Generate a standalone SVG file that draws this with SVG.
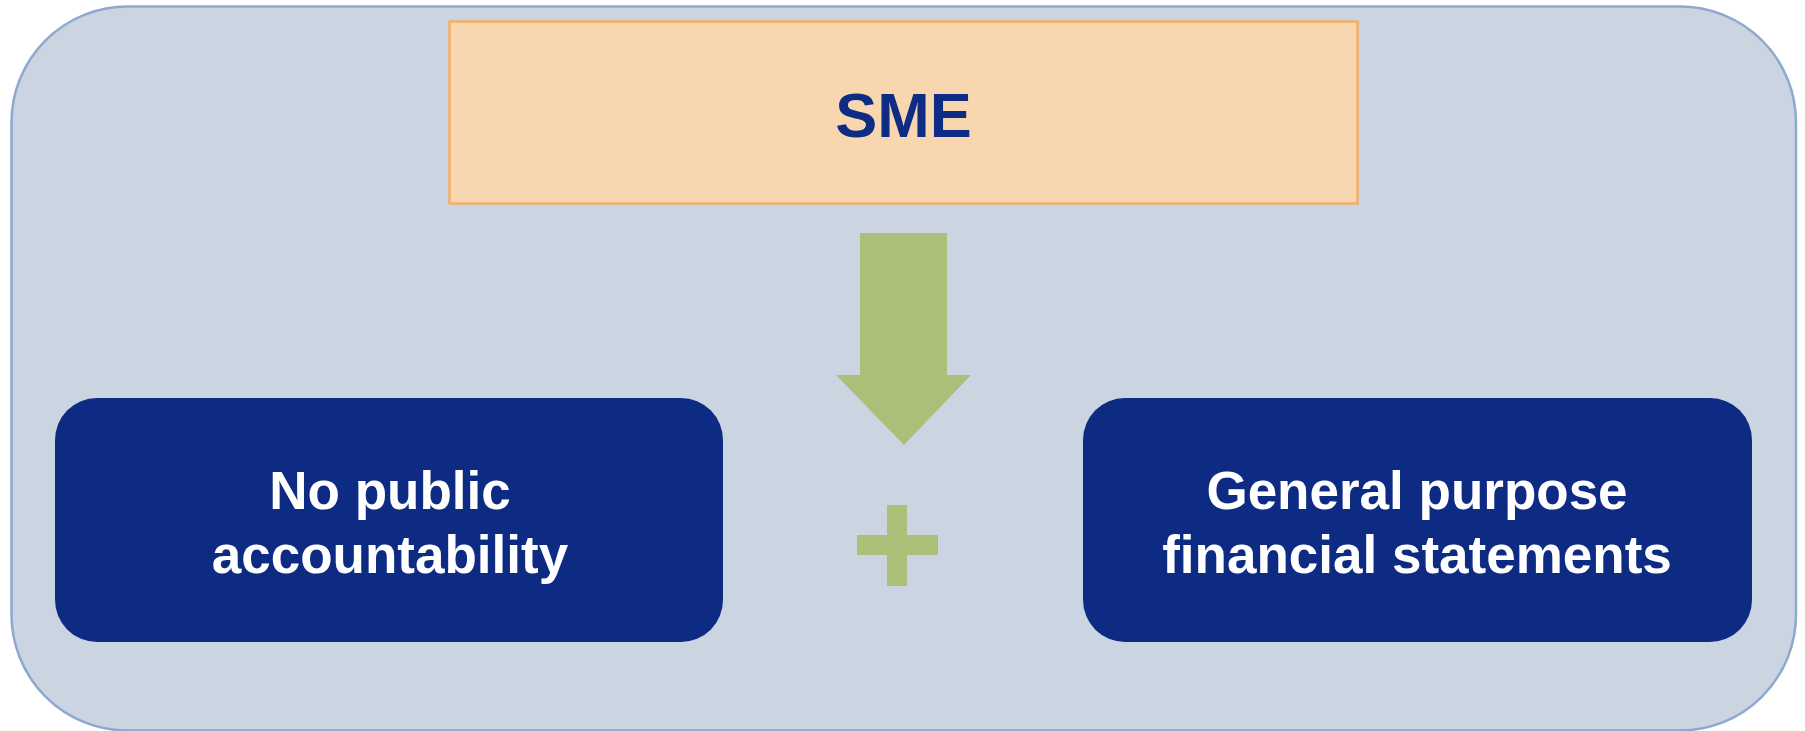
<svg xmlns="http://www.w3.org/2000/svg" width="1805" height="731" viewBox="0 0 1805 731">
  <style>
    .frame { fill: #CBD5E2; stroke: #8EA8D0; stroke-width: 2.5; }
    .head { fill: #F8D7B0; stroke: #F3B064; stroke-width: 2.5; }
    .head-label { fill: #0F2C84; font-family: "Liberation Sans", Arial, sans-serif; font-weight: bold; font-size: 63px; text-anchor: middle; }
    .box { fill: #0E2B84; }
    .box-label { fill: #FFFFFF; font-family: "Liberation Sans", Arial, sans-serif; font-weight: bold; font-size: 53px; text-anchor: middle; }
    .green { fill: #ABBF78; }
  </style>

  <!-- outer container -->
  <rect class="frame" x="11.5" y="6.5" width="1784.5" height="724" rx="116" ry="116"/>

  <!-- top: SME -->
  <g id="sme">
    <rect class="head" x="449.5" y="21.5" width="908" height="182"/>
    <text class="head-label" x="903.5" y="137">SME</text>
  </g>

  <!-- connectors: down arrow and plus sign -->
  <g id="connectors">
    <polygon class="green" points="860,233 947,233 947,375 971,375 904,445 836,375 860,375"/>
    <rect class="green" x="887" y="505" width="20" height="81"/>
    <rect class="green" x="857" y="535" width="81" height="20"/>
  </g>

  <!-- left condition -->
  <g id="no-public-accountability">
    <rect class="box" x="55" y="398" width="668" height="244" rx="42" ry="42"/>
    <text class="box-label" x="390" y="509">No public</text>
    <text class="box-label" x="390" y="573">accountability</text>
  </g>

  <!-- right condition -->
  <g id="general-purpose-fs">
    <rect class="box" x="1083" y="398" width="669" height="244" rx="42" ry="42"/>
    <text class="box-label" x="1417" y="509">General purpose</text>
    <text class="box-label" x="1417" y="573">financial statements</text>
  </g>
</svg>
